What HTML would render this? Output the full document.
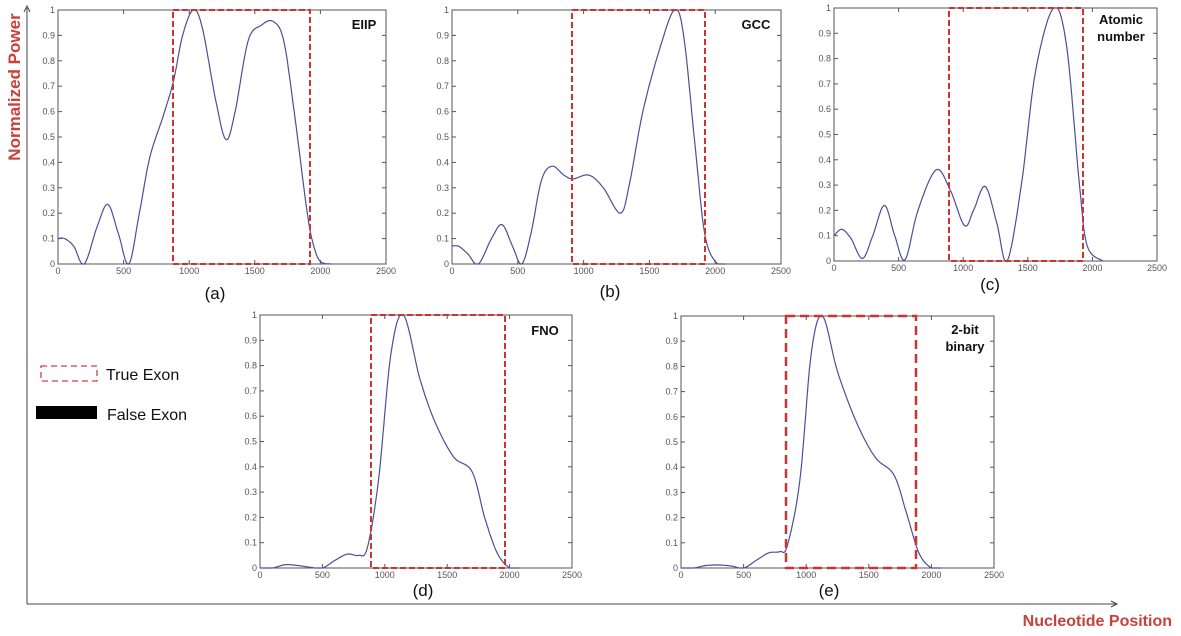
<!DOCTYPE html>
<html><head><meta charset="utf-8"><style>
html,body{margin:0;padding:0;background:#fff;}
body{width:1181px;height:636px;position:relative;overflow:hidden;font-family:"Liberation Sans",sans-serif;}
svg{position:absolute;left:0;top:0;}
</style></head><body>
<svg id="s" width="1181" height="636" xmlns="http://www.w3.org/2000/svg">
<line x1="27" y1="604" x2="27" y2="8" stroke="#444" stroke-width="1"/>
<polyline points="24,12 27,6 30,12" fill="none" stroke="#444" stroke-width="1"/>
<line x1="27" y1="604" x2="1116" y2="604" stroke="#444" stroke-width="1"/>
<polyline points="1111,601 1117,604 1111,607" fill="none" stroke="#444" stroke-width="1"/>
<text transform="translate(20,87) rotate(-90)" text-anchor="middle" font-size="17" font-weight="bold" fill="#c8413a" font-family="Liberation Sans, sans-serif">Normalized  Power</text>
<text x="1172" y="626" text-anchor="end" font-size="16" font-weight="bold" fill="#c8413a">Nucleotide Position</text>
<rect x="41" y="366" width="56" height="15" fill="none" stroke="#d04040" stroke-width="1.3" stroke-dasharray="6,4"/>
<text x="106" y="380" font-size="16" fill="#111">True Exon</text>
<rect x="36" y="406" width="61" height="13" fill="#000"/>
<text x="107" y="420" font-size="16" fill="#111">False Exon</text>
</svg>
<script>
const S=document.getElementById('s');const NS='http://www.w3.org/2000/svg';
function el(t,a,txt){const e=document.createElementNS(NS,t);for(const k in a)e.setAttribute(k,a[k]);if(txt!==undefined)e.textContent=txt;S.appendChild(e);return e;}
function panel(p){
 const {x0,x1,y0,y1}=p;const W=x1-x0,H=y1-y0;
 const X=v=>x0+v/2500*W, Y=v=>y1-v*H;
 el('rect',{x:x0,y:y0,width:W,height:H,fill:'#fff',stroke:'#555','stroke-width':1});
 for(let i=0;i<=5;i++){const xx=X(i*500);
  el('line',{x1:xx,y1:y1,x2:xx,y2:y1-4,stroke:'#555'});el('line',{x1:xx,y1:y0,x2:xx,y2:y0+4,stroke:'#555'});
  el('text',{x:xx,y:y1+10,'font-size':9,fill:'#555','text-anchor':'middle'},String(i*500));}
 for(let i=0;i<=10;i++){const yy=Y(i/10);
  el('line',{x1:x0,y1:yy,x2:x0+4,y2:yy,stroke:'#555'});el('line',{x1:x1,y1:yy,x2:x1-4,y2:yy,stroke:'#555'});
  el('text',{x:x0-3,y:yy+3,'font-size':9,fill:'#555','text-anchor':'end'},i==0?'0':i==10?'1':'0.'+i);}
 const P=p.pts;let pts=[];
 for(let i=0;i<P.length-1;i++){const a=P[Math.max(0,i-1)],b=P[i],c=P[i+1],e=P[Math.min(P.length-1,i+2)];
  for(let k=0;k<12;k++){const t=k/12,t2=t*t,t3=t2*t;
   const f=j=>0.5*((2*b[j])+(-a[j]+c[j])*t+(2*a[j]-5*b[j]+4*c[j]-e[j])*t2+(-a[j]+3*b[j]-3*c[j]+e[j])*t3);
   pts.push([X(f(0)),Y(Math.max(0,Math.min(1,f(1))))]);}}
 const L=P[P.length-1];pts.push([X(L[0]),Y(L[1])]);
 el('polyline',{points:pts.map(q=>q[0].toFixed(1)+','+q[1].toFixed(1)).join(' '),fill:'none',stroke:'#4a4f9a','stroke-width':1.2});
 el('rect',{x:p.ex0,y:y0,width:p.ex1-p.ex0,height:H,fill:'none',stroke:'#cc3333','stroke-width':p.sw||2,'stroke-dasharray':p.da||'6,3'});
 p.lab.forEach((t,i)=>el('text',{x:p.lx,y:p.ly+i*17,'font-size':13,'font-weight':'bold',fill:'#111','text-anchor':'middle'},t));
 el('text',{x:p.cx,y:p.cy,'font-size':17,fill:'#111','text-anchor':'middle'},p.cap);
}
const dpts=[[0,0],[100,0],[200,0.013],[300,0.01],[400,0.003],[500,0],[600,0.03],[700,0.055],[790,0.05],[860,0.08],[950,0.35],[1050,0.85],[1150,1],[1280,0.75],[1400,0.58],[1550,0.44],[1700,0.38],[1800,0.2],[1900,0.06],[2000,0],[2080,0]];
const epts=[[0,0],[100,0],[200,0.01],[300,0.012],[400,0.008],[500,0],[600,0.03],[700,0.06],[790,0.065],[850,0.09],[950,0.35],[1040,0.85],[1130,1],[1250,0.78],[1400,0.58],[1550,0.44],[1700,0.37],[1800,0.22],[1900,0.06],[2000,0],[2080,0]];
panel({x0:58,x1:386,y0:10,y1:264,ex0:173,ex1:310,lab:['EIIP'],lx:364,ly:29,cap:'(a)',cx:215,cy:299,
pts:[[0,0.1],[50,0.1],[120,0.07],[200,0],[300,0.15],[380,0.235],[460,0.12],[540,0],[620,0.2],[700,0.42],[800,0.58],[880,0.72],[950,0.9],[1030,1],[1100,0.93],[1200,0.65],[1280,0.49],[1350,0.6],[1450,0.88],[1550,0.94],[1640,0.955],[1720,0.88],[1800,0.6],[1900,0.2],[1950,0.07],[2000,0.01],[2080,0]]});
panel({x0:452,x1:781,y0:10,y1:264,ex0:572,ex1:705,lab:['GCC'],lx:756,ly:29,cap:'(b)',cx:610,cy:297,
pts:[[0,0.07],[50,0.07],[120,0.04],[200,0],[300,0.1],[380,0.155],[460,0.07],[530,0],[600,0.12],[680,0.33],[760,0.385],[850,0.35],[920,0.335],[1040,0.35],[1150,0.3],[1280,0.2],[1350,0.32],[1450,0.6],[1580,0.85],[1690,1],[1760,0.9],[1850,0.45],[1920,0.12],[2000,0.01],[2080,0]]});
panel({x0:834,x1:1157,y0:8,y1:261,ex0:949,ex1:1083,lab:['Atomic','number'],lx:1121,ly:24,cap:'(c)',cx:990,cy:290,
pts:[[0,0.1],[60,0.125],[130,0.09],[220,0.01],[300,0.1],[390,0.22],[470,0.1],[550,0.005],[650,0.2],[790,0.36],[900,0.28],[1010,0.14],[1080,0.2],[1170,0.295],[1260,0.15],[1340,0],[1450,0.3],[1560,0.75],[1700,1],[1800,0.85],[1900,0.3],[1960,0.06],[2080,0]]});
panel({x0:260,x1:572,y0:315,y1:568,ex0:371,ex1:505,lab:['FNO'],lx:545,ly:335,cap:'(d)',cx:423,cy:596,pts:dpts});
panel({x0:681,x1:994,y0:316,y1:568,ex0:786,ex1:916,lab:['2-bit','binary'],lx:965,ly:334,cap:'(e)',cx:829,cy:596,pts:epts,sw:2.5,da:'9,5'});
</script>
</body></html>
